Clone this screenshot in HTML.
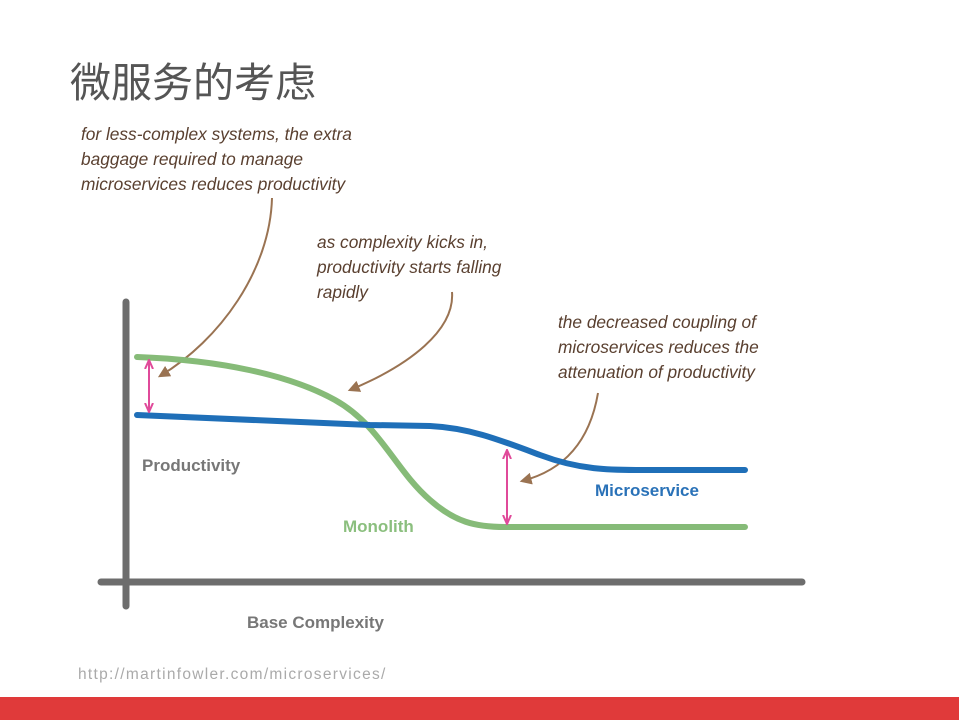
<!DOCTYPE html>
<html><head><meta charset="utf-8"><style>
html,body{margin:0;padding:0;background:#fff;}
body{width:959px;height:720px;position:relative;overflow:hidden;font-family:"Liberation Sans","Noto Sans CJK SC",sans-serif;}
</style></head><body>
<svg width="959" height="720" viewBox="0 0 959 720" xmlns="http://www.w3.org/2000/svg">
<defs>
<marker id="br" viewBox="0 0 10 10" refX="8" refY="5" markerWidth="6" markerHeight="6" orient="auto-start-reverse"><path d="M0,0 L10,5 L0,10 z" fill="#9a7352"/></marker>
<marker id="pk" viewBox="0 0 10 10" refX="8" refY="5" markerWidth="5" markerHeight="5" orient="auto-start-reverse"><path d="M0,1 L9,5 L0,9" fill="none" stroke="#e04a9a" stroke-width="2"/></marker>
</defs>
<text x="70" y="97" font-size="41" fill="#555" font-family="Noto Sans CJK SC, sans-serif">微服务的考虑</text>
<g font-family="Liberation Sans, sans-serif" font-style="italic" font-size="17.3" fill="#5a4030">
<text x="81" y="140">for less-complex systems, the extra</text>
<text x="81" y="165">baggage required to manage</text>
<text x="81" y="190">microservices reduces productivity</text>
<text x="317" y="248">as complexity kicks in,</text>
<text x="317" y="273">productivity starts falling</text>
<text x="317" y="298">rapidly</text>
<text x="558" y="328">the decreased coupling of</text>
<text x="558" y="353">microservices reduces the</text>
<text x="558" y="378">attenuation of productivity</text>
</g>
<g stroke="#9a7352" stroke-width="2" fill="none">
<path d="M272,198 C270,270 220,340 160,376" marker-end="url(#br)"/>
<path d="M452,292 C455,330 410,365 350,390" marker-end="url(#br)"/>
<path d="M598,393 C590,440 565,470 522,481" marker-end="url(#br)"/>
</g>
<line x1="126" y1="302" x2="126" y2="606" stroke="#6d6d6d" stroke-width="7" stroke-linecap="round"/>
<line x1="101" y1="582" x2="802" y2="582" stroke="#6d6d6d" stroke-width="7" stroke-linecap="round"/>
<path d="M137,357 C220,360 290,375 335,400 C380,425 395,470 430,500 C455,522 475,527 505,527 L745,527" stroke="#86bb78" stroke-width="6" fill="none" stroke-linecap="round"/>
<path d="M137,415 C250,420 330,424 370,425 L430,426 C470,428 500,440 540,455 C580,470 610,470 640,470 L745,470" stroke="#1f6fb8" stroke-width="6" fill="none" stroke-linecap="round"/>
<line x1="149" y1="361" x2="149" y2="411" stroke="#e04a9a" stroke-width="2" marker-start="url(#pk)" marker-end="url(#pk)"/>
<line x1="507" y1="451" x2="507" y2="523" stroke="#e04a9a" stroke-width="2" marker-start="url(#pk)" marker-end="url(#pk)"/>
<g font-family="Liberation Sans, sans-serif" font-size="17" font-weight="bold">
<text x="142" y="471" fill="#777">Productivity</text>
<text x="343" y="532" fill="#8bbf7e">Monolith</text>
<text x="595" y="496" fill="#2a72b8">Microservice</text>
<text x="247" y="628" fill="#777">Base Complexity</text>
</g>
<text x="78" y="679" font-size="15.5" fill="#aaa" letter-spacing="1.3" font-family="Liberation Sans, sans-serif">http://martinfowler.com/microservices/</text>
<rect x="0" y="697" width="959" height="23" fill="#e03a3a"/>
</svg>
</body></html>
